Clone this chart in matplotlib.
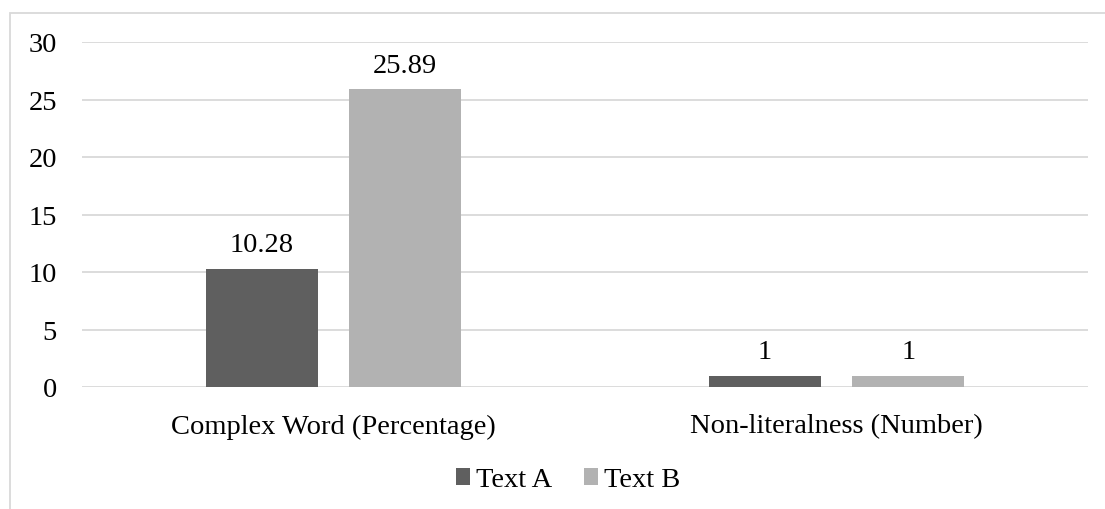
import numpy as np
import matplotlib.pyplot as plt
from matplotlib.patches import Rectangle

plt.rcParams['font.family'] = ['Liberation Serif', 'DejaVu Serif']

# -------------------------------
# Data
# -------------------------------
categories = ['Complex Word (Percentage)', 'Non-literalness (Number)']
series_names = ['Text A', 'Text B']
text_a = [10.28, 1]
text_b = [25.89, 1]
value_labels_a = ['10.28', '1']
value_labels_b = ['25.89', '1']
y_ticks = [0, 5, 10, 15, 20, 25, 30]

colors = ['#5f5f5f', '#b2b2b2']
grid_color = '#d9d9d9'
fs = 20.5

W, H = 1105, 510
fig = plt.figure(figsize=(W / 100, H / 100), dpi=100)

# plot area in pixels: left 82, right 1088, top 43 (y=30), bottom 388 (y=0)
ax = fig.add_axes([82 / W, 1 - 388 / H, (1088 - 82) / W, (388 - 43) / H])

x = np.arange(len(categories))
bar_w = 0.223
gap = 0.062
offset = (bar_w + gap) / 2

bars_a = ax.bar(x - offset, text_a, bar_w, color=colors[0], label=series_names[0], zorder=3)
bars_b = ax.bar(x + offset, text_b, bar_w, color=colors[1], label=series_names[1], zorder=3)

for bars, labels in [(bars_a, value_labels_a), (bars_b, value_labels_b)]:
    for b, lab in zip(bars, labels):
        ax.annotate(lab, (b.get_x() + b.get_width() / 2, b.get_height()),
                    xytext=(0, 12.5), textcoords='offset points',
                    ha='center', va='baseline', fontsize=fs)

ax.set_xlim(-0.5, 1.5)
ax.set_ylim(0, 30)
ax.set_yticks(y_ticks)
ax.set_xticks(x)
ax.set_xticklabels(categories, fontsize=fs)
ax.tick_params(axis='y', labelsize=fs, length=0, pad=18)
ax.tick_params(axis='x', length=0, pad=19)
ax.yaxis.grid(True, color=grid_color, linewidth=1.3, zorder=0)
for s in ax.spines.values():
    s.set_visible(False)

leg = fig.legend(loc='center', bbox_to_anchor=(568 / W, 1 - 481 / H), ncol=2,
                 frameon=False, fontsize=fs, handlelength=0.5, handleheight=0.5,
                 handletextpad=0.2, columnspacing=1.1, borderpad=0)

# outer chart border (only top and left edges fall inside the image)
fig.patches.append(Rectangle((10 / W, -0.1), 1.2, 1 - 14 / H + 0.1,
                             transform=fig.transFigure, fill=False,
                             edgecolor=grid_color, linewidth=1.3))

fig.savefig('out.png', dpi=100)
